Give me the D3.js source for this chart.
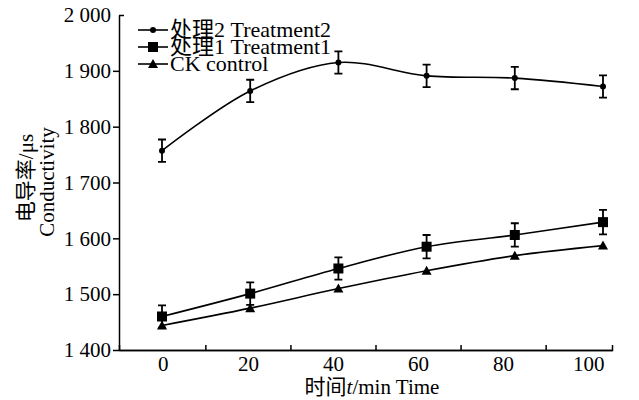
<!DOCTYPE html>
<html>
<head>
<meta charset="utf-8">
<script src="https://cdn.jsdelivr.net/npm/d3@7"></script>
<style>
  body { margin: 0; background: #fff; }
  svg { display: block; }
  text { font-family: "Liberation Serif", "Times New Roman", "Noto Sans CJK SC", serif; fill: #000; }
</style>
</head>
<body>
<svg id="chart" width="639" height="400"></svg>
<script>
/* data */
const times = [0, 20, 40, 60, 80, 100];
const treat2 = [1757, 1864, 1915, 1891, 1887, 1872];
const treat2Err = [20, 20, 20, 20, 20, 20];
const treat1 = [1460, 1501, 1546, 1585, 1606, 1629];
const treat1Err = [20, 20, 20, 21, 21, 22];
const control = [1444, 1475, 1510, 1542, 1569, 1587];
const xLabels = [0, 20, 40, 60, 80, 100];
const xMinorTicks = [10, 30, 50, 70, 90];
const yTicks = [1400, 1500, 1600, 1700, 1800, 1900, 2000];
const seriesNames = ["处理2 Treatment2", "处理1 Treatment1", "CK control"];

// plot frame
const plotLeft = 119, plotRight = 612, plotTop = 15, plotBottom = 350;

let svg = d3.select("#chart");

// axis scale (labels) and data scale differ slightly in the original figure
let xAxisScale = d3.scaleLinear().domain([-10.3, 105.6]).range([plotLeft, plotRight]);
let x = d3.scaleLinear().domain([0, 100]).range([162, 603]);
let y = d3.scaleLinear().domain([1400, 2000]).range([plotBottom, plotTop]);

const fmt = d => String(d).replace(/\B(?=(\d{3})+$)/, " ");

// y axis
let yAxisG = svg.append("g")
  .attr("transform", "translate(" + plotLeft + ",0)")
  .call(d3.axisLeft(y).tickValues(yTicks).tickSize(6).tickSizeOuter(0).tickPadding(2).tickFormat(fmt));
yAxisG.selectAll("text").style("font-size", "21px");
yAxisG.selectAll(".tick").filter(d => d === 2000).select("line").attr("x2", 5);

// x axis: labels
let xAxisG = svg.append("g")
  .attr("transform", "translate(0," + plotBottom + ")")
  .call(d3.axisBottom(xAxisScale).tickValues(xLabels).tickSize(0).tickSizeOuter(0).tickPadding(6));
xAxisG.selectAll("text").style("font-size", "21px");

// x axis: inner minor ticks
svg.append("g")
  .attr("transform", "translate(0," + plotBottom + ")")
  .call(d3.axisTop(xAxisScale).tickValues(xMinorTicks).tickSize(5).tickSizeOuter(5).tickFormat(""));

svg.selectAll(".domain, .tick line").attr("stroke", "#000").attr("stroke-width", 1.5);

// axis titles
svg.append("text")
  .attr("transform", "translate(33,178) rotate(-90)")
  .attr("text-anchor", "middle")
  .style("font-size", "21px")
  .text("电导率/μs");
svg.append("text")
  .attr("transform", "translate(54,182) rotate(-90)")
  .attr("text-anchor", "middle")
  .style("font-size", "21px")
  .text("Conductivity");

let xTitle = svg.append("text")
  .attr("x", 372).attr("y", 394)
  .attr("text-anchor", "middle")
  .style("font-size", "21px");
xTitle.append("tspan").text("时间");
xTitle.append("tspan").style("font-style", "italic").text("t");
xTitle.append("tspan").text("/min Time");

// series
const series = [
  { name: seriesNames[0], values: treat2, err: treat2Err, marker: "circle" },
  { name: seriesNames[1], values: treat1, err: treat1Err, marker: "square" },
  { name: seriesNames[2], values: control, err: null, marker: "triangle" }
];

let line = d3.line()
  .x((d, i) => x(times[i]))
  .y(d => y(d))
  .curve(d3.curveCatmullRom.alpha(0.5));

function drawMarker(g, type, cx, cy) {
  if (type === "circle") {
    g.append("circle").attr("cx", cx).attr("cy", cy).attr("r", 3).attr("fill", "#000");
  } else if (type === "square") {
    g.append("rect").attr("x", cx - 5).attr("y", cy - 5).attr("width", 10).attr("height", 10).attr("fill", "#000");
  } else {
    g.append("path")
      .attr("d", "M" + cx + "," + (cy - 5) + "L" + (cx + 5) + "," + (cy + 4) + "L" + (cx - 5) + "," + (cy + 4) + "Z")
      .attr("fill", "#000");
  }
}

series.forEach(s => {
  let g = svg.append("g");
  g.append("path")
    .attr("d", line(s.values))
    .attr("fill", "none")
    .attr("stroke", "#000")
    .attr("stroke-width", 1.6);

  if (s.err) {
    s.values.forEach((v, i) => {
      const cx = x(times[i]);
      const y1 = y(v + s.err[i]), y2 = y(v - s.err[i]);
      g.append("path")
        .attr("d", "M" + cx + "," + y1 + "V" + y2 + "M" + (cx - 4) + "," + y1 + "H" + (cx + 4) + "M" + (cx - 4) + "," + y2 + "H" + (cx + 4))
        .attr("fill", "none")
        .attr("stroke", "#000")
        .attr("stroke-width", 1.8);
    });
  }

  s.values.forEach((v, i) => drawMarker(g, s.marker, x(times[i]), y(v)));
});

// legend
let legend = svg.append("g");
series.forEach((s, i) => {
  const base = 37 + i * 17;
  const ly = base - 7;
  legend.append("line")
    .attr("x1", 138).attr("x2", 168).attr("y1", ly).attr("y2", ly)
    .attr("stroke", "#000").attr("stroke-width", 1.6);
  drawMarker(legend, s.marker, 153, ly);
  legend.append("text")
    .attr("x", 170).attr("y", base)
    .style("font-size", "22px")
    .text(s.name);
});
</script>
</body>
</html>
